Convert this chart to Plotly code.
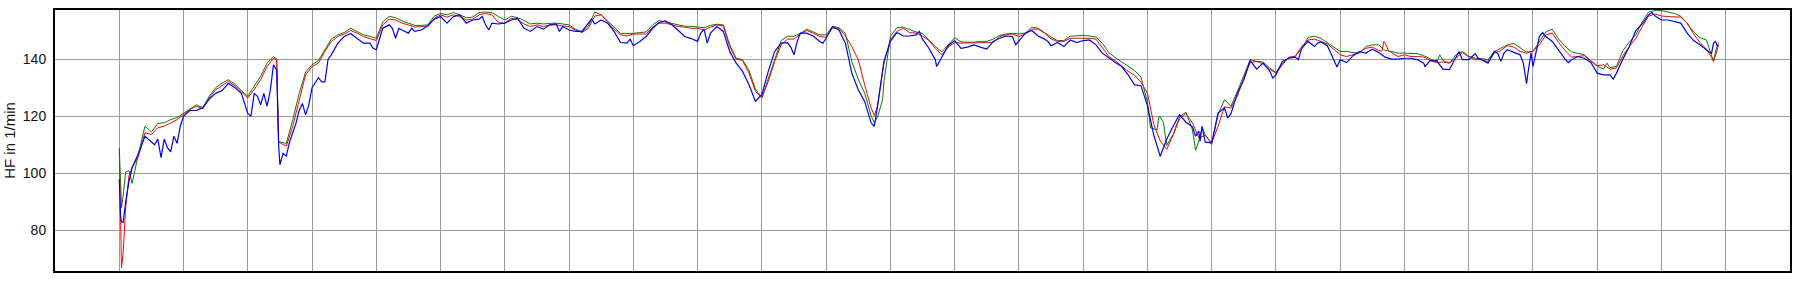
import plotly.graph_objects as go

# Heart rate traces (time in grid units, HF in 1/min)
RED = [
    (0, 108), (0.02, 80), (0.035, 67), (0.06, 72), (0.1, 88), (0.15, 99), (0.2, 102), (0.3, 106),
    (0.4, 114.2), (0.5, 113.6), (0.6, 116), (0.7, 116.5), (0.8, 117.7), (0.9, 118.8), (1.0, 120.6),
    (1.1, 122.3), (1.2, 123.5), (1.3, 122.6), (1.4, 126.4), (1.5, 129.3), (1.6, 130.7), (1.7, 132.2),
    (1.8, 130.7), (1.9, 128.4), (2.0, 126.4), (2.1, 129.3), (2.2, 132.8), (2.3, 137.4), (2.4, 140.3),
    (2.45, 139.8), (2.48, 110.7), (2.5, 110.7), (2.6, 109.5), (2.7, 116.5), (2.8, 125.8), (2.9, 134.5),
    (3.0, 137.4), (3.1, 138.6), (3.2, 142.7), (3.3, 146.2), (3.4, 147.9),
    (3.5, 148.8), (3.6, 150), (3.7, 149.1), (3.8, 147.9), (3.9, 147.3), (4.0, 146.5), (4.1, 152),
    (4.2, 154), (4.3, 153.7), (4.4, 152.6), (4.5, 152), (4.6, 151.2), (4.7, 151.4), (4.8, 151.6),
    (4.9, 154.3), (5.0, 155.5), (5.1, 154.7), (5.2, 155.5), (5.3, 154.9), (5.4, 153.7), (5.5, 154),
    (5.6, 155.5), (5.7, 156), (5.8, 155.5), (5.9, 152.8), (6.0, 152.6), (6.1, 154.3), (6.2, 153.7),
    (6.3, 152.3), (6.4, 151.4), (6.5, 152), (6.6, 151.4), (6.7, 152), (6.8, 152), (6.9, 151.6), (7.0, 151.4),
    (7.1, 150.2), (7.2, 149.3), (7.3, 150.8), (7.4, 155.1), (7.5, 155.5), (7.6, 152.8), (7.7, 150.5),
    (7.8, 148.5), (7.9, 148.1), (8.0, 148.8), (8.1, 148.8), (8.2, 148.8), (8.3, 151.2), (8.4, 152.6),
    (8.5, 152.6), (8.6, 152), (8.7, 151.4), (8.8, 151.2), (8.9, 150.8), (9.0, 150.8), (9.1, 150.2),
    (9.2, 151.2), (9.3, 152), (9.4, 151.6), (9.5, 144.4), (9.6, 140), (9.7, 139.5), (9.8, 135.1),
    (9.9, 128.7), (10.0, 126.4), (10.1, 132.2), (10.2, 139.2), (10.3, 145), (10.4, 147), (10.5, 147),
    (10.6, 148.8),
    (10.7, 150), (10.8, 149.1), (10.9, 147.9), (11.0, 147.7), (11.1, 150.8), (11.2, 150.8), (11.3, 148.1),
    (11.4, 144.4), (11.5, 139.8), (11.6, 131), (11.7, 122.9), (11.75, 120.2), (11.8, 123.5), (11.9, 138.6),
    (12.0, 146.7), (12.1, 149.7), (12.2, 150.8), (12.3, 149.3), (12.4, 149.1), (12.5, 148.1), (12.6, 146.5),
    (12.7, 143.8), (12.8, 141.5), (12.9, 144.2), (13.0, 145.8), (13.1, 145.6), (13.2, 145.6), (13.3, 145.6),
    (13.4, 145.6), (13.5, 145.6), (13.6, 145.8), (13.7, 147.9), (13.8, 148.5), (13.9, 148.8), (14.0, 147.9),
    (14.1, 148.8),
    (14.2, 150.5), (14.3, 150.5), (14.4, 149.1), (14.5, 147.1), (14.6, 146.2), (14.7, 146.2), (14.8, 147.3),
    (14.9, 147.3), (15.0, 147.3), (15.1, 147.3), (15.2, 147), (15.3, 143.8), (15.4, 140.9), (15.5, 139.4),
    (15.6, 137.4), (15.7, 135.7), (15.8, 134.4), (15.9, 131.9), (16.0, 128.1), (16.1, 117.1), (16.2, 111.3),
    (16.3, 108.4), (16.4, 113.3), (16.5, 119.1), (16.6, 120.9), (16.7, 117.7), (16.8, 112.4), (16.9, 113.3),
    (17.0, 110.7), (17.1, 116.5), (17.2, 123.3), (17.3, 122.9), (17.4, 127), (17.5, 133.4), (17.6, 138.8),
    (17.7, 139.2),
    (17.8, 138.4), (17.9, 136.5), (18.0, 135.1), (18.1, 138), (18.2, 140.7), (18.3, 140.9), (18.4, 144.4),
    (18.5, 146.7), (18.6, 147), (18.7, 146.2), (18.8, 145.3), (18.9, 143.5), (19.0, 141.5), (19.1, 140.9),
    (19.2, 141.5), (19.3, 142.3), (19.4, 143.8), (19.5, 144.2), (19.6, 143), (19.65, 142.8), (19.68, 146.2),
    (19.7, 145.6), (19.75, 143), (19.8, 142.3), (19.9, 140.9), (20.0, 141.5), (20.1, 140.9), (20.2, 140.9),
    (20.3, 140.7), (20.4, 139.5), (20.5, 138.8), (20.6, 139), (20.7, 138.6), (20.8, 140.3), (20.9, 142.3),
    (21.0, 140.9), (21.1, 139.8), (21.2, 139.8), (21.3, 139.2),
    (21.4, 142.1), (21.5, 143), (21.6, 144.7), (21.7, 144.2), (21.8, 142.7), (21.9, 142.1), (22.0, 142.7),
    (22.1, 145), (22.2, 148.5), (22.3, 149.1), (22.4, 145.8), (22.5, 143), (22.6, 140.7), (22.7, 140.9),
    (22.8, 141.2), (22.9, 139.2), (23.0, 137.7), (23.1, 138), (23.2, 136.5), (23.3, 136.9), (23.4, 141.2),
    (23.5, 144.4), (23.6, 147.3), (23.7, 151.4), (23.8, 155.1), (23.9, 155.8), (24.0, 155.1), (24.1, 154.9),
    (24.2, 154.7), (24.3, 154.7), (24.4, 152.6), (24.5, 148.8), (24.6, 145.8), (24.7, 143.5), (24.78, 140.5),
    (24.81, 139.2), (24.85, 142), (24.89, 145),
]

GREEN = [
    (0, 109), (0.02, 95), (0.035, 88), (0.06, 92), (0.1, 100.5), (0.15, 101), (0.2, 96.5), (0.3, 107),
    (0.4, 116.5), (0.5, 114.5), (0.6, 117.5), (0.7, 117.7), (0.8, 118.8), (0.9, 119.5), (1.0, 121),
    (1.1, 122.6), (1.2, 124), (1.3, 123), (1.4, 127), (1.5, 130), (1.6, 131.6), (1.7, 132.8), (1.8, 131.2),
    (1.9, 129), (2.0, 127), (2.1, 130.5), (2.2, 134), (2.3, 138.6), (2.4, 140.9), (2.45, 140), (2.48, 111),
    (2.5, 111), (2.6, 110.5), (2.7, 118.8), (2.8, 128), (2.9, 135.5), (3.0, 138), (3.1, 139.5), (3.2, 143.5),
    (3.3, 147), (3.4, 148.5),
    (3.5, 149.3), (3.6, 150.8), (3.7, 149.7), (3.8, 148.5), (3.9, 148), (4.0, 147.3), (4.1, 153), (4.2, 155),
    (4.3, 154.5), (4.4, 153.4), (4.5, 152.6), (4.6, 151.8), (4.7, 151.8), (4.8, 152), (4.9, 155), (5.0, 156),
    (5.1, 155.5), (5.2, 156.3), (5.3, 155.5), (5.4, 154.5), (5.5, 154.7), (5.6, 156.3), (5.7, 156.5),
    (5.8, 156.3), (5.9, 154.9), (6.0, 153.7), (6.1, 155), (6.2, 154.5), (6.3, 153.5), (6.4, 152.3),
    (6.5, 152.6), (6.6, 152.3), (6.7, 152.5), (6.8, 152.6), (6.9, 152.3), (7.0, 152),
    (7.1, 150.5), (7.2, 149.5), (7.3, 151.5), (7.4, 156.5), (7.5, 155.5), (7.6, 153.5), (7.7, 151.2),
    (7.8, 149), (7.9, 149), (8.0, 149), (8.1, 149.3), (8.2, 149.5), (8.3, 152), (8.4, 153.5), (8.5, 153),
    (8.6, 152.5), (8.7, 151.8), (8.8, 151.5), (8.9, 151.5), (9.0, 151.2), (9.1, 151), (9.2, 151.8),
    (9.3, 152.2), (9.4, 152), (9.5, 145), (9.6, 140.3), (9.7, 139.8), (9.8, 136), (9.9, 129.5), (10.0, 126.5),
    (10.1, 133), (10.2, 140), (10.3, 146.5), (10.4, 148), (10.5, 148), (10.6, 149),
    (10.7, 150.5), (10.8, 149.5), (10.9, 148.5), (11.0, 148.5), (11.1, 151.5), (11.2, 151), (11.3, 149),
    (11.4, 139.2), (11.5, 133), (11.6, 128.1), (11.7, 120.2), (11.75, 117.7), (11.8, 119.8), (11.85, 123.5),
    (11.88, 126), (11.9, 132), (12.0, 147.9), (12.1, 151), (12.2, 151.2), (12.3, 150.3), (12.4, 149.5),
    (12.5, 149), (12.6, 146.7), (12.7, 144.4), (12.8, 142.5), (12.9, 145), (13.0, 147.5), (13.1, 146),
    (13.2, 146), (13.3, 145.9), (13.4, 146.2), (13.5, 146.2), (13.6, 147), (13.7, 148.3), (13.8, 148.8),
    (13.9, 149), (14.0, 148.8), (14.1, 149.1),
    (14.2, 151.2), (14.3, 150.8), (14.4, 149.3), (14.5, 147.7), (14.6, 146.5), (14.7, 146.5), (14.8, 148),
    (14.9, 148.1), (15.0, 148.3), (15.1, 148.1), (15.2, 147.7), (15.3, 145.5), (15.4, 142.3), (15.5, 140.5),
    (15.6, 139), (15.7, 137.4), (15.8, 136), (15.9, 133.7), (16.0, 125), (16.05, 115.9), (16.1, 115.6),
    (16.15, 115.3), (16.18, 120), (16.2, 119.8), (16.25, 117.7), (16.3, 109.8), (16.4, 113.6), (16.5, 119.8),
    (16.6, 121.4), (16.7, 115.3), (16.75, 108.1), (16.8, 111.3), (16.85, 115.9), (16.9, 113.6), (17.0, 110.1),
    (17.1, 120.6), (17.2, 125.8), (17.3, 123.5), (17.4, 128.7), (17.5, 134.2), (17.6, 139.8), (17.7, 139.2),
    (17.8, 139), (17.9, 137), (18.0, 135.3), (18.1, 138.5), (18.2, 140.5), (18.3, 141), (18.4, 143.5),
    (18.5, 147.6), (18.6, 148), (18.7, 147.3), (18.8, 145.6), (18.9, 144.2), (19.0, 142.7), (19.1, 142.7),
    (19.2, 142.3), (19.3, 142.1), (19.4, 144.4), (19.5, 145), (19.6, 145), (19.7, 143), (19.8, 142.7),
    (19.9, 142.1), (20.0, 142.1), (20.1, 141.9), (20.2, 141.9), (20.3, 141.2), (20.4, 140.2), (20.5, 139),
    (20.55, 141.5), (20.6, 139.5), (20.7, 138.6), (20.8, 141.5), (20.9, 142.7), (21.0, 141), (21.1, 140.3),
    (21.2, 140.2), (21.3, 139.8),
    (21.4, 142.7), (21.5, 143.8), (21.6, 145), (21.7, 145.5), (21.8, 144), (21.9, 142.5), (22.0, 142.7),
    (22.1, 146), (22.2, 149.5), (22.3, 150.5), (22.4, 147), (22.5, 144.5), (22.6, 142.5), (22.7, 142),
    (22.8, 141.5), (22.9, 139.5), (23.0, 137.5), (23.1, 136.5), (23.15, 138.6), (23.2, 137), (23.3, 137.5),
    (23.4, 143), (23.5, 146), (23.6, 148.5), (23.7, 153), (23.8, 156.5), (23.9, 157), (24.0, 157),
    (24.1, 156.5), (24.2, 156), (24.3, 155), (24.4, 152.5), (24.5, 149.5), (24.6, 147.5), (24.7, 146.7),
    (24.76, 142.1), (24.81, 139.2), (24.85, 143.5), (24.89, 145.8),
]

BLUE = [
    (0, 97.9), (0.02, 85), (0.035, 83), (0.06, 82.8), (0.1, 90), (0.15, 97), (0.2, 102), (0.3, 107),
    (0.4, 113), (0.5, 111), (0.55, 110), (0.6, 112), (0.65, 105.5), (0.7, 112), (0.75, 109), (0.8, 107.5),
    (0.85, 113), (0.9, 110.5), (0.95, 116.5), (1.0, 120), (1.1, 122), (1.2, 122), (1.3, 123), (1.4, 126),
    (1.5, 128), (1.6, 129), (1.7, 131.5), (1.8, 130), (1.9, 128), (2.0, 121), (2.05, 120), (2.1, 128),
    (2.15, 127), (2.2, 124), (2.25, 128), (2.3, 123.5), (2.35, 129), (2.4, 138), (2.45, 136), (2.48, 110),
    (2.5, 103), (2.55, 107), (2.6, 106), (2.65, 111), (2.7, 114), (2.75, 117.5), (2.8, 122), (2.85, 124.5),
    (2.9, 120.5), (2.95, 124), (3.0, 130), (3.1, 133.5), (3.15, 132), (3.2, 132), (3.25, 140), (3.3, 141.5),
    (3.4, 145.5),
    (3.5, 147.9), (3.6, 149), (3.7, 147.3), (3.8, 145.6), (3.9, 145.6), (3.95, 143.8), (4.0, 143.3),
    (4.1, 150.8), (4.2, 152), (4.25, 150.8), (4.3, 147.3), (4.35, 150.8), (4.4, 150.2), (4.5, 149.1),
    (4.55, 150.8), (4.6, 149.7), (4.7, 150.2), (4.8, 151.6), (4.9, 154), (5.0, 154.9), (5.1, 152.6),
    (5.2, 154.9), (5.3, 155.5), (5.4, 152.6), (5.5, 153.7), (5.6, 154), (5.65, 154.9), (5.7, 152),
    (5.75, 150.2), (5.8, 152.6), (5.9, 152.3), (6.0, 152.6), (6.1, 153.7), (6.2, 154.3), (6.3, 150.8),
    (6.4, 149.7), (6.5, 151.4), (6.6, 150.5), (6.7, 152), (6.8, 152.3), (6.85, 149.7), (6.9, 151.4),
    (7.0, 150.2),
    (7.1, 149.7), (7.2, 149.7), (7.3, 152.6), (7.35, 154), (7.4, 152.3), (7.5, 153.7), (7.6, 152.6),
    (7.7, 149.7), (7.8, 145.8), (7.9, 145.6), (7.95, 147), (8.0, 144.7), (8.1, 146.2), (8.2, 147.9),
    (8.3, 150.8), (8.4, 152.8), (8.5, 153.4), (8.6, 152), (8.7, 150), (8.8, 147.9), (8.9, 147.2),
    (9.0, 146.2), (9.05, 149.1), (9.1, 150.5), (9.15, 145.6), (9.2, 149.1), (9.3, 151.4), (9.4, 149.7),
    (9.5, 142.7), (9.6, 138.6), (9.7, 135.7), (9.8, 131), (9.9, 125.2), (10.0, 127.6), (10.1, 135.7),
    (10.2, 142.7), (10.3, 145.6), (10.4, 145.8), (10.45, 144.2), (10.5, 141.5), (10.55, 146.2), (10.6, 149.1),
    (10.7, 149.1), (10.8, 148.1), (10.9, 146.2), (10.95, 145.6), (11.0, 147.3), (11.1, 151.4), (11.2, 150.2),
    (11.3, 145.6), (11.4, 135.1), (11.5, 129.3), (11.6, 125.2), (11.7, 117.7), (11.75, 116.5), (11.8, 123.5),
    (11.9, 139.2), (12.0, 146.2), (12.1, 149.3), (12.2, 148.1), (12.3, 148.1), (12.4, 148.5), (12.45, 149.7),
    (12.5, 147), (12.6, 143.8), (12.7, 139.8), (12.72, 137.4), (12.8, 140.9), (12.9, 144.7), (13.0, 146.5),
    (13.1, 143.8), (13.2, 144.2), (13.3, 145), (13.4, 144.2), (13.5, 143.5), (13.6, 146.2), (13.7, 147.3),
    (13.8, 148.1), (13.9, 147.9), (13.95, 145), (14.0, 146.5), (14.1, 149.1),
    (14.2, 150), (14.3, 148.1), (14.4, 147), (14.45, 146.2), (14.5, 144.7), (14.6, 145.8), (14.7, 144.4),
    (14.8, 146.7), (14.9, 145.8), (15.0, 146.5), (15.1, 146.7), (15.2, 145), (15.3, 142.1), (15.4, 140.3),
    (15.5, 138.8), (15.6, 137.4), (15.7, 134.5), (15.8, 131), (15.9, 130.7), (16.0, 123.7), (16.1, 113.3),
    (16.2, 106), (16.3, 111.9), (16.4, 116.5), (16.5, 120.6), (16.6, 117.9), (16.7, 116.3), (16.75, 113),
    (16.8, 114.8), (16.82, 111.3), (16.85, 116.5), (16.9, 110.9), (17.0, 110.7), (17.1, 121.2), (17.2, 122.9),
    (17.25, 119.4), (17.3, 120.9), (17.4, 128.1), (17.5, 132.8), (17.6, 139.5), (17.7, 136.5),
    (17.8, 138.6), (17.9, 136), (17.95, 133.4), (18.0, 134.5), (18.1, 139.2), (18.2, 140.3), (18.3, 140.7),
    (18.35, 139.8), (18.4, 143.8), (18.5, 146.2), (18.6, 144.4), (18.65, 145.6), (18.7, 146), (18.8, 144.7),
    (18.9, 139.8), (18.95, 137.2), (19.0, 139.8), (19.1, 138.8), (19.2, 141.2), (19.3, 142.6), (19.4, 142.1),
    (19.5, 143.5), (19.6, 142.3), (19.7, 140.7), (19.8, 140), (19.9, 140), (20.0, 140.3), (20.1, 140.3),
    (20.2, 139.8), (20.3, 138.6), (20.32, 137.4), (20.4, 139.5), (20.5, 139.5), (20.6, 136.5), (20.7, 136.3),
    (20.8, 140.9), (20.85, 142.7), (20.9, 139.8), (21.0, 139.8), (21.1, 141.9), (21.15, 140.3), (21.2, 139.8),
    (21.3, 138.6),
    (21.4, 142.7), (21.45, 142.1), (21.5, 139.2), (21.55, 142.1), (21.6, 143.3), (21.7, 142.3), (21.8, 141.5),
    (21.85, 138.6), (21.9, 131.4), (21.93, 136.3), (21.97, 142.1), (22.0, 137.4), (22.05, 142.7), (22.1, 147.9),
    (22.15, 149.3), (22.2, 147.9), (22.3, 146.2), (22.4, 143), (22.5, 140), (22.55, 138.8), (22.6, 139.8),
    (22.7, 140.9), (22.8, 140.3), (22.9, 138.8), (23.0, 135.1), (23.1, 134.5), (23.2, 134.5), (23.25, 133),
    (23.3, 135.1), (23.4, 140), (23.5, 144.4), (23.6, 150), (23.7, 152.3), (23.8, 155.5), (23.85, 156.3),
    (23.9, 155.1), (24.0, 153.7), (24.1, 153.7), (24.2, 153.1), (24.3, 152.6), (24.4, 149.1), (24.5, 146.5),
    (24.6, 145), (24.7, 143), (24.75, 142.3), (24.78, 142.1), (24.81, 145.6), (24.84, 146.2), (24.87, 144.4),
]

Y_TICKS = [80, 100, 120, 140]
Y_TITLE = "HF in 1/min"

FONT = "Liberation Sans, Arial, sans-serif"

fig = go.Figure()
for data, color, width in [(GREEN, "#008000", 1.0), (RED, "#ff0000", 1.0), (BLUE, "#0000ff", 1.2)]:
    xs = [p[0] for p in data]
    ys = [p[1] for p in data]
    fig.add_trace(go.Scatter(x=xs, y=ys, mode="lines", line=dict(color=color, width=width), showlegend=False))

axis_common = dict(showline=True, linecolor="black", linewidth=2, mirror=True,
                   showgrid=True, gridcolor="#9a9a9a", gridwidth=1.3, zeroline=False)

fig.update_xaxes(range=[-1.0, 26.0], dtick=1, tick0=0, showticklabels=False, ticks="", **axis_common)
fig.update_yaxes(range=[65.8, 157.2], tickvals=Y_TICKS, ticks="", ticklabelstandoff=4,
                 tickfont=dict(family=FONT, size=14, color="#111"),
                 title=dict(text=Y_TITLE, standoff=4, font=dict(family=FONT, size=15, color="#111")),
                 **axis_common)

fig.update_layout(width=1800, height=282, margin=dict(l=54, r=8, t=9, b=11),
                  plot_bgcolor="white", paper_bgcolor="white")

fig.write_html("out.html")
